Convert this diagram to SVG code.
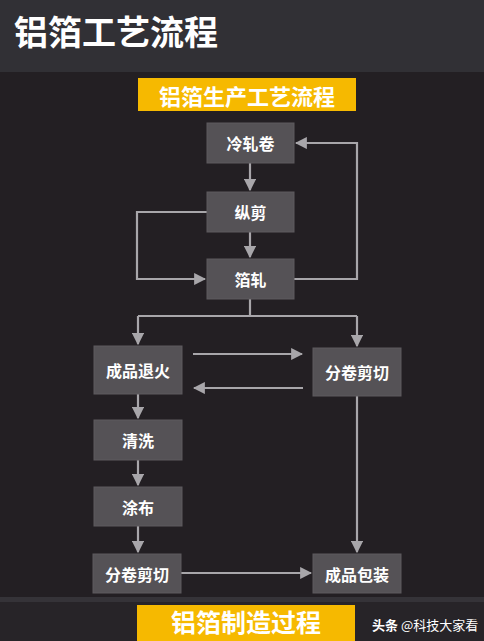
<svg xmlns="http://www.w3.org/2000/svg" width="484" height="641" viewBox="0 0 484 641">
<defs>
<style>
.node rect{fill:#555256;stroke:#5e5b5f;stroke-width:1}
.node text{fill:#ffffff;font-family:"Noto Sans CJK SC","Noto Sans",sans-serif;font-weight:bold;font-size:16px;text-anchor:middle;dominant-baseline:central}
.conn path{fill:none;stroke:#a8a6aa;stroke-width:2.2}
.banner{fill:#f6b900}
.bt{fill:#ffffff;font-family:"Noto Sans CJK SC","Noto Sans",sans-serif;font-weight:bold;text-anchor:middle;dominant-baseline:central}
</style>
<marker id="ah" viewBox="0 0 10 10" refX="9" refY="5" markerWidth="5.5" markerHeight="5.5" orient="auto" markerUnits="strokeWidth">
<path d="M0,0 L10,5 L0,10 z" fill="#a8a6aa"/>
</marker>
</defs>
<rect x="0" y="0" width="484" height="641" fill="#231f23"/>
<rect x="0" y="0" width="484" height="72" fill="#313035"/>
<rect x="0" y="597" width="484" height="5" fill="#353338"/>
<rect x="0" y="602" width="484" height="39" fill="#272428"/>
<text x="14" y="30" fill="#ffffff" font-family="Noto Sans CJK SC, Noto Sans, sans-serif" font-weight="bold" font-size="34" dominant-baseline="central">铝箔工艺流程</text>
<rect class="banner" x="138" y="78" width="218" height="33"/>
<text class="bt" x="247" y="94.5" font-size="22">铝箔生产工艺流程</text>
<rect class="banner" x="137" y="605" width="218" height="36"/>
<text class="bt" x="246" y="621" font-size="25" fill="#fff6dc">铝箔制造过程</text>
<text x="372" y="624" fill="#ffffff" font-family="Noto Sans CJK SC, Noto Sans, sans-serif" font-size="13" dominant-baseline="central"><tspan font-weight="bold">头条</tspan> @科技大家看</text>
<g class="conn">
<path d="M250,163 V190" marker-end="url(#ah)"/>
<path d="M250,232 V257" marker-end="url(#ah)"/>
<path d="M207,212 H137 V279 H205" marker-end="url(#ah)"/>
<path d="M294,279 H357 V143 H296" marker-end="url(#ah)"/>
<path d="M250,299 V316 M138,316 H357"/>
<path d="M138,316 V344" marker-end="url(#ah)"/>
<path d="M357,316 V346" marker-end="url(#ah)"/>
<path d="M193,354 H302" marker-end="url(#ah)"/>
<path d="M303,388 H194" marker-end="url(#ah)"/>
<path d="M138,394 V418" marker-end="url(#ah)"/>
<path d="M138,460 V485" marker-end="url(#ah)"/>
<path d="M138,526 V552" marker-end="url(#ah)"/>
<path d="M181,573 H311" marker-end="url(#ah)"/>
<path d="M357,396 V552" marker-end="url(#ah)"/>
</g>
<g id="n1" class="node"><rect x="207" y="123" width="87" height="40"/><text x="250.5" y="143">冷轧卷</text></g>
<g id="n2" class="node"><rect x="207" y="192" width="87" height="40"/><text x="250.5" y="212">纵剪</text></g>
<g id="n3" class="node"><rect x="207" y="259" width="87" height="40"/><text x="250.5" y="279">箔轧</text></g>
<g id="n4" class="node"><rect x="94" y="346" width="88" height="48"/><text x="138" y="370">成品退火</text></g>
<g id="n5" class="node"><rect x="313" y="348" width="88" height="48"/><text x="357" y="372">分卷剪切</text></g>
<g id="n6" class="node"><rect x="94" y="420" width="88" height="40"/><text x="138" y="440">清洗</text></g>
<g id="n7" class="node"><rect x="94" y="487" width="88" height="39"/><text x="138" y="506.5">涂布</text></g>
<g id="n8" class="node"><rect x="93" y="554" width="88" height="39"/><text x="137" y="573.5">分卷剪切</text></g>
<g id="n9" class="node"><rect x="313" y="554" width="88" height="39"/><text x="357" y="573.5">成品包装</text></g>
</svg>
